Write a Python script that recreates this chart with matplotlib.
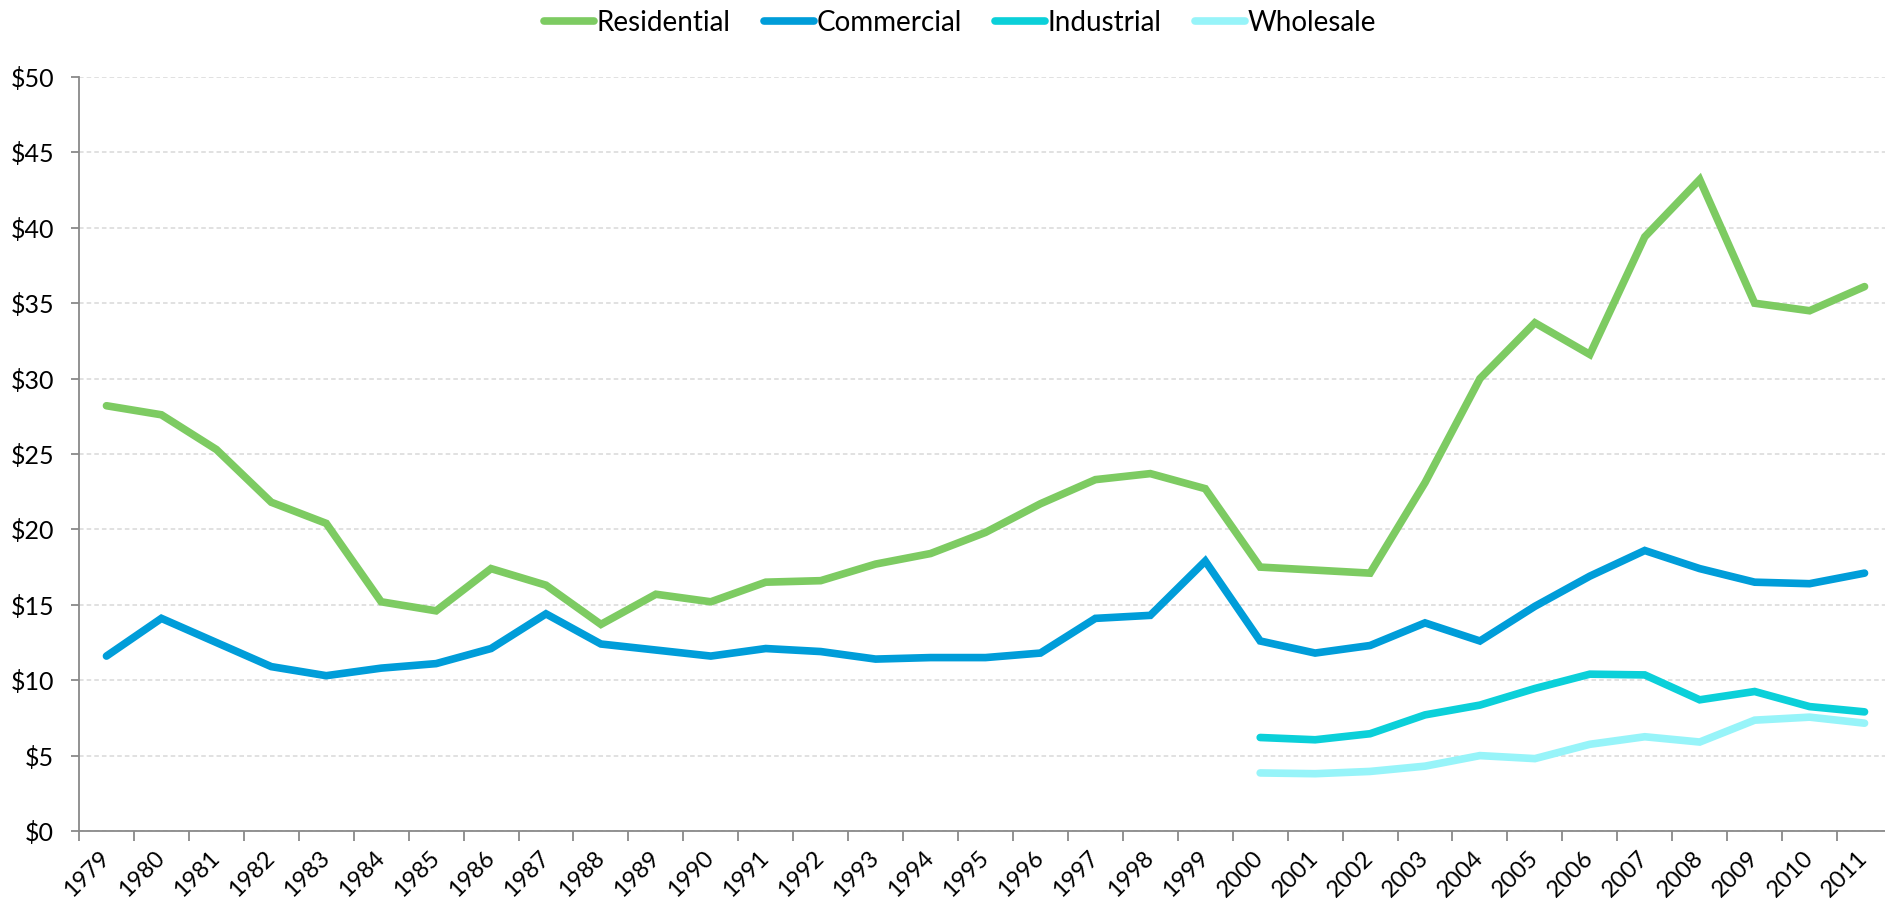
import numpy as np
import matplotlib
matplotlib.use("Agg")
import matplotlib.pyplot as plt
from matplotlib.ticker import FixedLocator

plt.rcParams["font.family"] = ["Lato", "DejaVu Sans"]

years = list(range(1979, 2012))
residential = [28.2, 27.6, 25.3, 21.8, 20.4, 15.2, 14.6, 17.4, 16.3, 13.7, 15.7, 15.2,
               16.5, 16.6, 17.7, 18.4, 19.8, 21.7, 23.3, 23.7, 22.7, 17.5, 17.3, 17.1,
               23.1, 30.0, 33.7, 31.6, 39.4, 43.2, 35.0, 34.5, 36.1]
commercial = [11.6, 14.1, 12.5, 10.9, 10.3, 10.8, 11.1, 12.1, 14.4, 12.4, 12.0, 11.6,
              12.1, 11.9, 11.4, 11.5, 11.5, 11.8, 14.1, 14.3, 17.9, 12.6, 11.8, 12.3,
              13.8, 12.6, 14.9, 16.9, 18.6, 17.4, 16.5, 16.4, 17.1]
# industrial and wholesale series start in 2000
industrial = [6.2, 6.05, 6.45, 7.7, 8.35, 9.45, 10.4, 10.35, 8.7, 9.25, 8.25, 7.9]
wholesale = [3.85, 3.8, 3.95, 4.3, 5.0, 4.8, 5.75, 6.25, 5.9, 7.35, 7.55, 7.15]

series = [
    ("Residential", residential, "#7DCB62"),
    ("Commercial", commercial, "#009DD9"),
    ("Industrial", industrial, "#0BD0D9"),
    ("Wholesale", wholesale, "#97F4F9"),
]

FS = 18
W, H = 1885, 906
fig = plt.figure(figsize=(W / 100, H / 100), dpi=100)
ax = fig.add_axes([79 / W, 1 - 831 / H, (1892 - 79) / W, (831 - 77) / H])

x = np.arange(len(years))
for name, vals, col in series:
    xs = x[len(years) - len(vals):]
    ax.plot(xs, vals, color=col, lw=5.5, label=name,
            solid_capstyle="round", solid_joinstyle="miter")

ax.set_xlim(-0.5, len(years) - 0.5)
ax.set_ylim(0, 50)
ax.set_yticks(np.arange(0, 51, 5))
ax.set_yticklabels([f"${v}" for v in range(0, 51, 5)], fontsize=FS)
ax.grid(axis="y", color="#d9d9d9", ls=(0, (3, 2)), lw=1.1)
ax.set_axisbelow(True)

# tick marks on category boundaries, labels on category centres
ax.xaxis.set_major_locator(FixedLocator(np.arange(len(years)) - 0.5))
ax.xaxis.set_minor_locator(FixedLocator(x))
ax.set_xticklabels([], minor=False)
ax.set_xticklabels([str(y) for y in years], minor=True, rotation=45,
                   ha="right", va="center", rotation_mode="anchor", fontsize=17)
ax.tick_params(axis="x", which="major", length=7, width=1.3, color="#898989")
ax.tick_params(axis="x", which="minor", length=0, pad=17)
ax.tick_params(axis="y", length=6, width=1.3, color="#898989", pad=12)

for s in ["top", "right"]:
    ax.spines[s].set_visible(False)
for s in ["left", "bottom"]:
    ax.spines[s].set_color("#898989")
    ax.spines[s].set_linewidth(1.3)

fig.legend(loc="center", bbox_to_anchor=(960 / W, 1 - 23 / H), ncol=4, frameon=False,
           fontsize=20, handlelength=1.8, handletextpad=0.1, columnspacing=1.2)

fig.savefig("out.png", dpi=100)
